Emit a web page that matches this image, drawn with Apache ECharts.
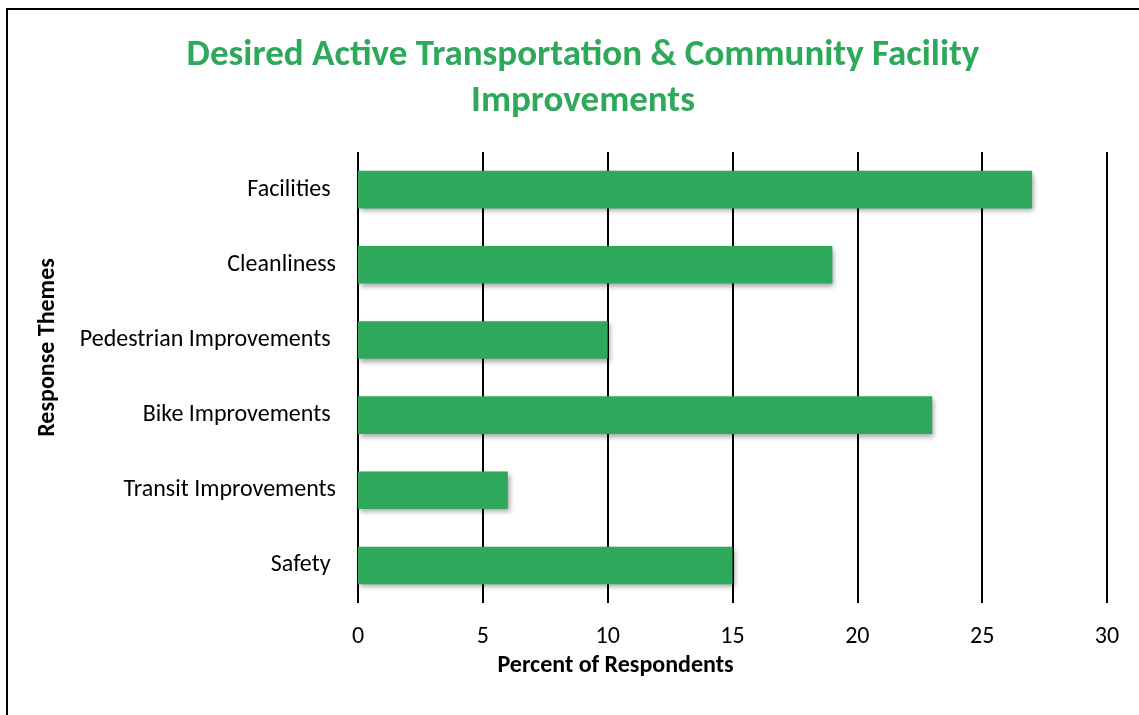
<!DOCTYPE html>
<html>
<head>
<meta charset="utf-8">
<script src="https://cdn.jsdelivr.net/npm/echarts@6/dist/echarts.min.js"></script>
<style>
  html, body { margin: 0; padding: 0; background: #fff; }
  #main { width: 1139px; height: 715px; }
</style>
</head>
<body>
<div id="main"></div>
<script>
// categories listed bottom to top (category axis starts at the bottom)
const themes = ["Safety ", "Transit Improvements", "Bike Improvements ", "Pedestrian Improvements ", "Cleanliness", "Facilities "];
const percents = [15, 6, 23, 10, 19, 27];
const xTicks = [0, 5, 10, 15, 20, 25, 30];

const green = "#2EA85A";
const font = "Carlito, Lato, 'Open Sans', sans-serif";

let chart = echarts.init(document.getElementById("main"));

chart.setOption({
  animation: false,
  backgroundColor: "#fff",
  title: {
    text: "Desired Active Transportation & Community Facility\nImprovements",
    left: 578,
    top: 28,
    textAlign: "center",
    textStyle: {
      color: green,
      fontFamily: font,
      fontWeight: "bold",
      fontSize: 37,
      lineHeight: 46,
    },
  },
  graphic: [
    {
      type: "rect",
      shape: { x: 7, y: 9, width: 1200, height: 800 },
      style: { fill: "none", stroke: "#000", lineWidth: 2 },
      silent: true,
    },
  ],
  grid: {
    left: 358,
    right: 32,
    top: 152,
    bottom: 112,
  },
  xAxis: {
    type: "value",
    min: xTicks[0],
    max: xTicks[xTicks.length - 1],
    interval: 5,
    name: "Percent of Respondents",
    nameLocation: "middle",
    nameGap: 48,
    nameTextStyle: {
      color: "#000",
      fontFamily: font,
      fontWeight: "bold",
      fontSize: 24,
      padding: [0, 234, 0, 0],
    },
    axisLine: { show: false },
    axisTick: { show: false },
    axisLabel: {
      color: "#000",
      fontFamily: font,
      fontSize: 24,
      margin: 22,
    },
    splitLine: { lineStyle: { color: "#000", width: 2 } },
  },
  yAxis: {
    type: "category",
    data: themes,
    name: "Response Themes",
    nameLocation: "middle",
    nameGap: 298,
    nameTextStyle: {
      color: "#000",
      fontFamily: font,
      fontWeight: "bold",
      fontSize: 24,
      padding: [0, 0, 0, 60],
    },
    axisLine: { show: false },
    axisTick: { show: false },
    axisLabel: {
      color: "#000",
      fontFamily: font,
      fontSize: 24,
      margin: 22,
    },
  },
  series: [
    {
      type: "bar",
      data: percents,
      barWidth: "50%",
      itemStyle: {
        color: green,
        shadowColor: "rgba(0,0,0,0.35)",
        shadowBlur: 5,
        shadowOffsetX: 2,
        shadowOffsetY: 3,
      },
    },
  ],
});
</script>
</body>
</html>
